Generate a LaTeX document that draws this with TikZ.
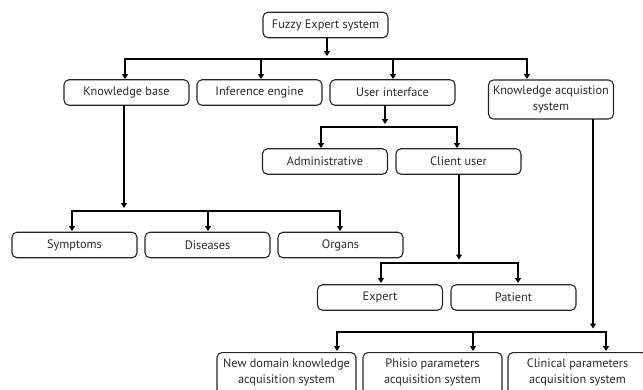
\documentclass[tikz,border=0pt]{standalone}
\usepackage{fontspec}
\setmainfont{PT Sans}
\usetikzlibrary{arrows.meta}
\definecolor{txt}{HTML}{2A2A2A}
\tikzset{
  box/.style={draw=black!85, line width=1.1pt, rounded corners=5pt, minimum width=125pt, minimum height=25.5pt, inner sep=1pt, align=center, text=txt, font=\fontsize{12.3}{15.5}\selectfont},
  tallbox/.style={box, minimum height=39pt},
  bigbox/.style={box, minimum width=139pt, minimum height=42pt, anchor=north},
  bar/.style={line width=1.6pt, black},
  arr/.style={line width=1.6pt, black, -{Triangle[length=5pt,width=6pt]}},
}
\begin{document}
\begin{tikzpicture}[x=1pt,y=-1pt]
\useasboundingbox (0,0) rectangle (643,389);
\clip (0,0) rectangle (643,389);
% nodes
\node[box] (fes) at (325.5,25) {Fuzzy Expert system};
\node[box] (kb) at (126.5,92.5) {Knowledge base};
\node[box] (ie) at (259.5,92.5) {Inference engine};
\node[box] (ui) at (392.5,92.5) {User interface};
\node[tallbox] (kas) at (551,99.5) {Knowledge acquistion\\system};
\node[box] (adm) at (325,161.5) {Administrative};
\node[box] (cu) at (458.5,161.5) {Client user};
\node[box] (sym) at (74.5,245) {Symptoms};
\node[box] (dis) at (207.5,245) {Diseases};
\node[box] (org) at (340.5,245) {Organs};
\node[box] (exp) at (380,297.5) {Expert};
\node[box] (pat) at (513.5,297.5) {Patient};
\node[bigbox] (nd) at (286.5,352) {New domain knowledge\\acquisition system\strut};
\node[bigbox] (ph) at (432.5,352) {Phisio parameters\\acquisition system\strut};
\node[bigbox] (cl) at (577.5,352) {Clinical parameters\\acquisition system\strut};
% level 1
\coordinate (a1) at (125,59); \coordinate (a2) at (261,59);
\coordinate (a3) at (393,59); \coordinate (a4) at (527,59);
\draw[arr] ([xshift=1.5pt]fes.south) -- ([xshift=1.5pt]fes.south |- 0,56);
\draw[bar] ([xshift=-0.8pt]a1) -- ([xshift=0.8pt]a4);
\draw[arr] (a1) -- (a1 |- 0,79);
\draw[arr] (a2) -- (a2 |- 0,79);
\draw[arr] (a3) -- (a3 |- 0,79);
\draw[arr] (a4) -- (a4 |- 0,79);
% knowledge base
\coordinate (b1) at (72,211); \coordinate (b2) at (208,211); \coordinate (b3) at (340,211);
\draw[arr] (124,105) -- (124,208);
\draw[bar] ([xshift=-0.8pt]b1) -- ([xshift=0.8pt]b3);
\draw[arr] (b1) -- (b1 |- 0,231);
\draw[arr] (b2) -- (b2 |- 0,231);
\draw[arr] (b3) -- (b3 |- 0,231);
% user interface
\coordinate (c1) at (321,127); \coordinate (c2) at (457,127);
\draw[arr] (385,105) -- (385,124);
\draw[bar] ([xshift=-0.8pt]c1) -- ([xshift=0.8pt]c2);
\draw[arr] (c1) -- (c1 |- 0,148);
\draw[arr] (c2) -- (c2 |- 0,148);
% client user
\coordinate (d1) at (381,263); \coordinate (d2) at (518,263);
\draw[arr] (459,174) -- (459,259.5);
\draw[bar] ([xshift=-0.8pt]d1) -- ([xshift=0.8pt]d2);
\draw[arr] (d1) -- (d1 |- 0,283);
\draw[arr] (d2) -- (d2 |- 0,283);
% knowledge acquisition
\coordinate (e1) at (337,332); \coordinate (e2) at (473,332); \coordinate (e3) at (606,332);
\draw[arr] (593,119) -- (593,328.5);
\draw[bar] ([xshift=-0.8pt]e1) -- ([xshift=0.8pt]e3);
\draw[arr] (e1) -- (e1 |- 0,351);
\draw[arr] (e2) -- (e2 |- 0,351);
\draw[arr] (e3) -- (e3 |- 0,351);
\end{tikzpicture}
\end{document}
